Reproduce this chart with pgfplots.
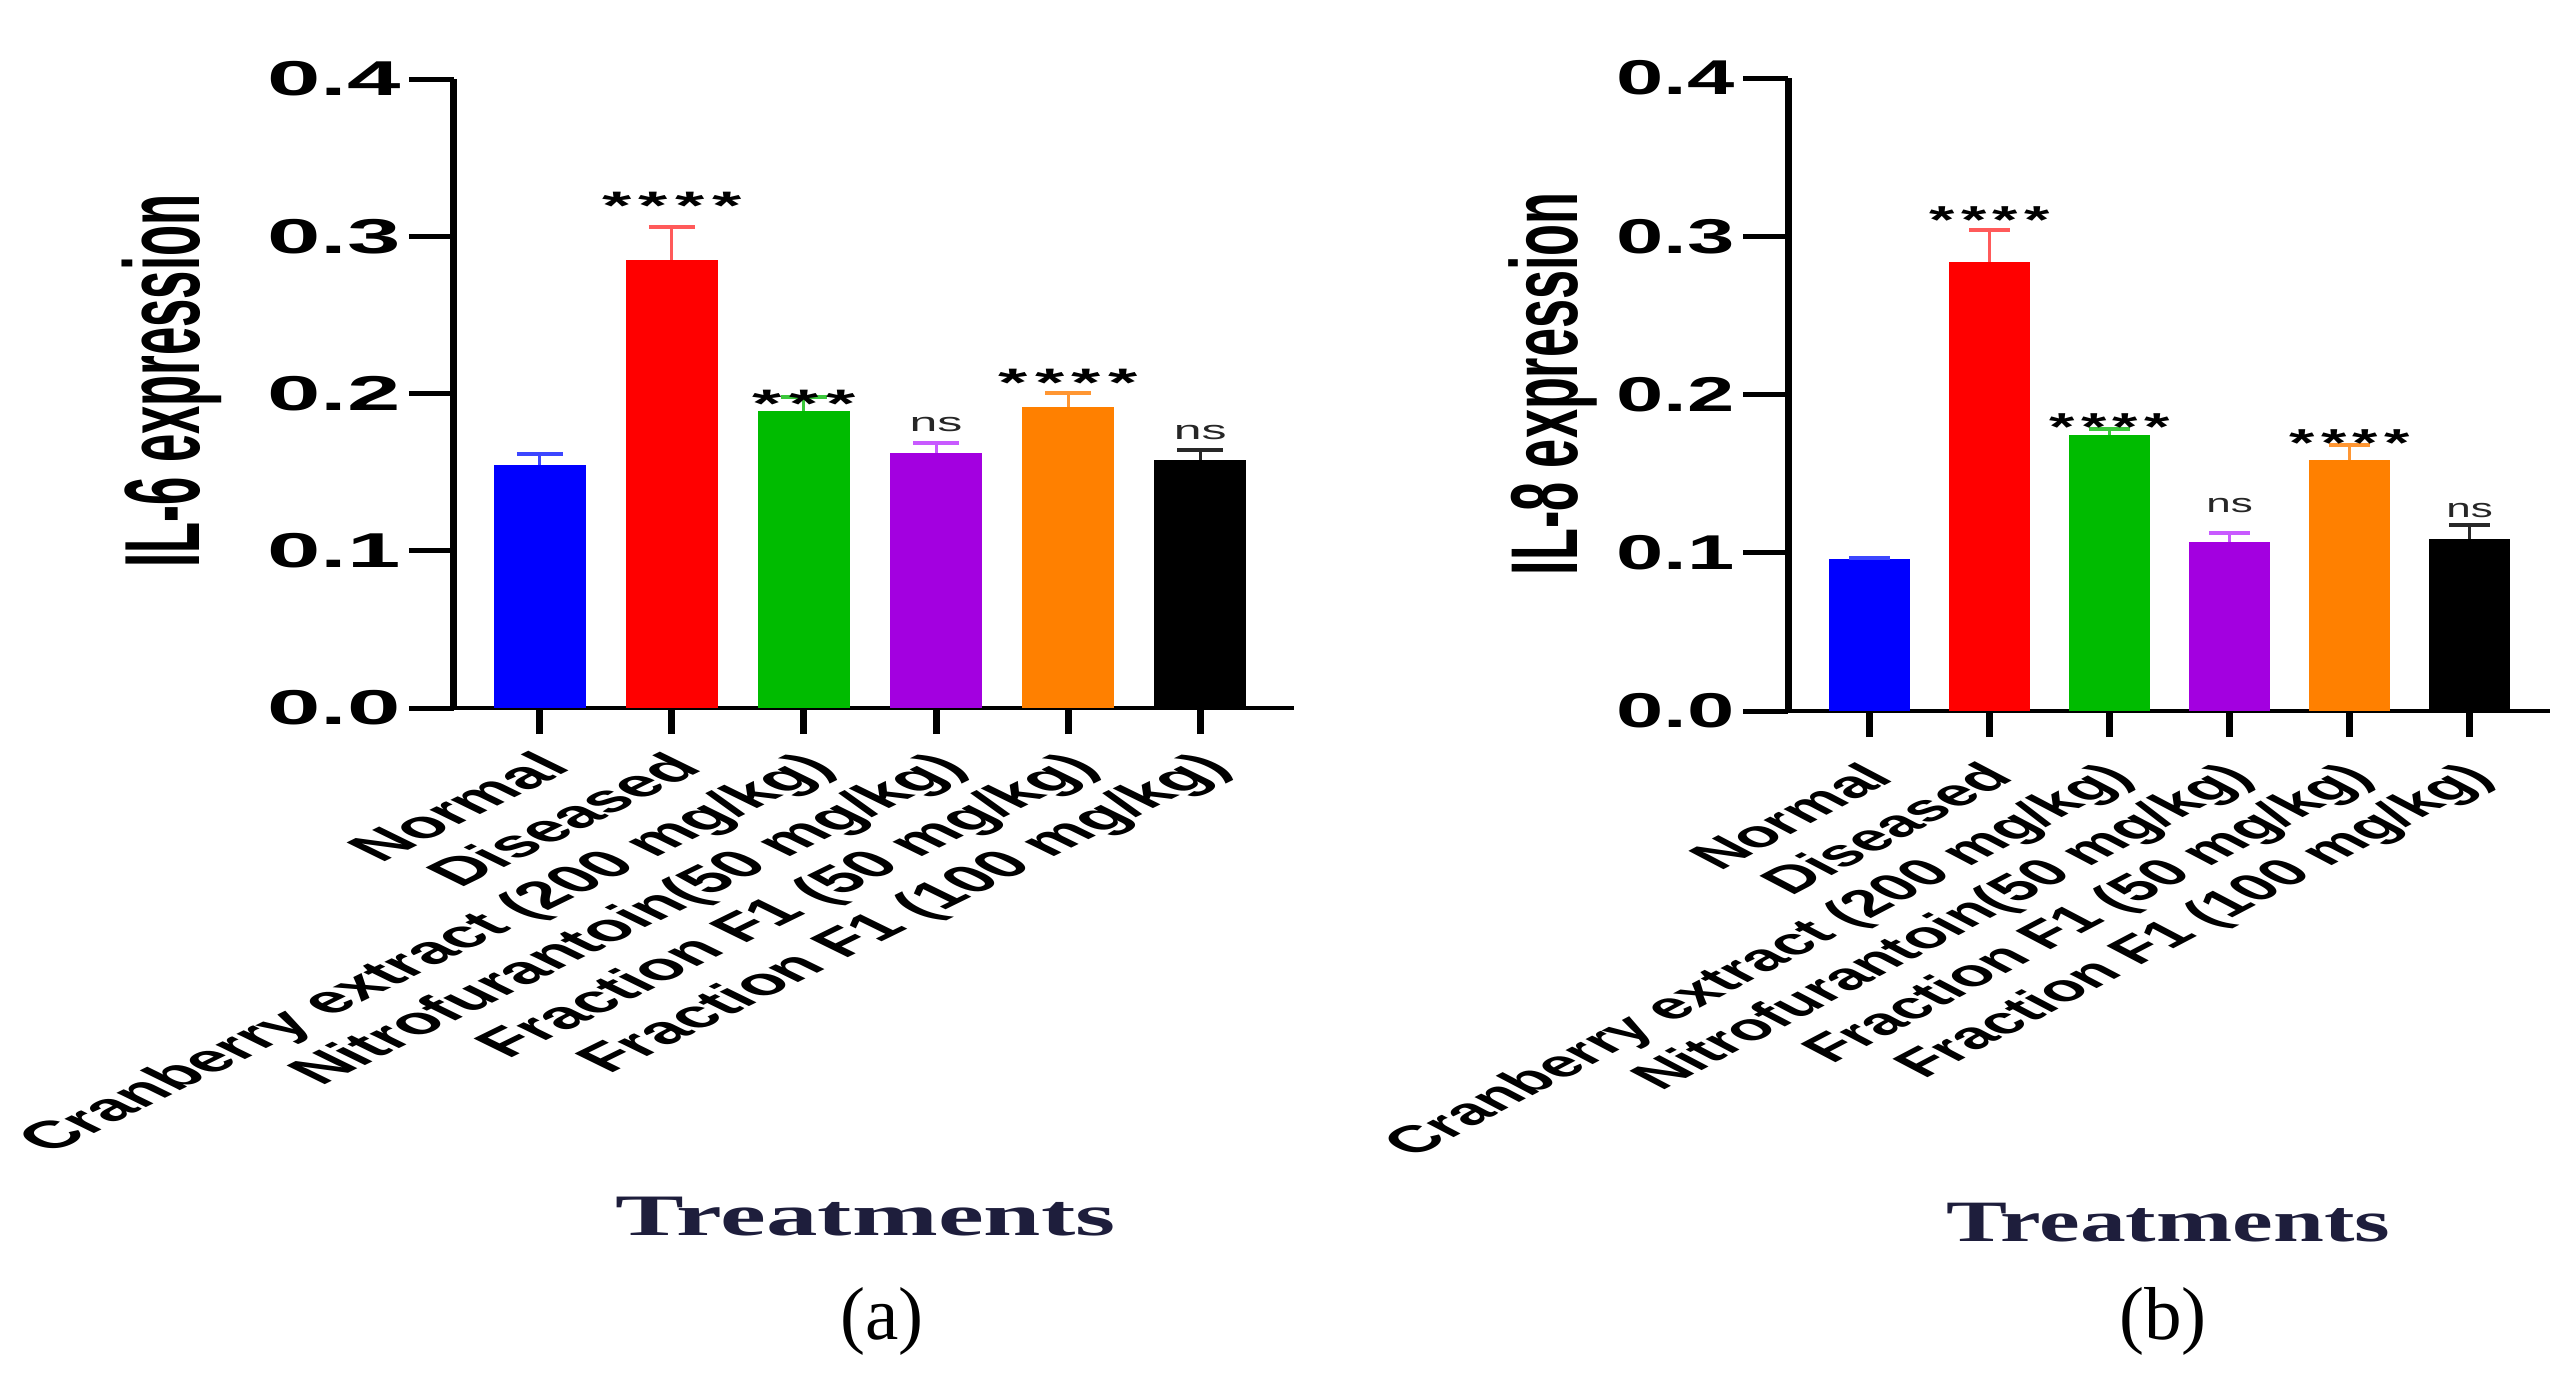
\documentclass[border=0pt]{standalone}
\usepackage{fontspec}
\usepackage{pgfplots}
\pgfplotsset{compat=1.18}
\newfontfamily\arialf{Liberation Sans}
\newfontfamily\timesf{Liberation Serif}
\newcommand{\fs}[1]{\fontsize{#1}{#1}\selectfont}
\newcommand{\stars}[2]{#1\ifnum#2>1 \hspace{0.1em}*\fi\ifnum#2>2 \hspace{0.1em}*\fi\ifnum#2>3 \hspace{0.1em}*\fi}
\definecolor{cBlue}{RGB}{0,0,255}
\definecolor{cRed}{RGB}{255,0,0}
\definecolor{cGreen}{RGB}{0,187,0}
\definecolor{cPurple}{RGB}{163,0,224}
\definecolor{cOrange}{RGB}{255,128,0}
\definecolor{cBlack}{RGB}{0,0,0}
\definecolor{eBlue}{RGB}{60,70,255}
\definecolor{eRed}{RGB}{255,90,90}
\definecolor{eGreen}{RGB}{60,200,60}
\definecolor{ePurple}{RGB}{200,90,255}
\definecolor{eOrange}{RGB}{255,150,50}
\definecolor{eBlack}{RGB}{40,40,40}
\definecolor{navy}{RGB}{30,30,60}

% one bar: x, mean, error, fill colour, error colour, bar width, cap half-width
\newcommand{\onebar}[7]{%
  \addplot[ybar, bar width=#6, bar shift=0pt, fill=#4, draw=none,
    error bars/.cd, y dir=plus, y explicit,
    error bar style={line width=0.6pt, draw=#5},
    error mark options={draw=#5, line width=0.8pt, rotate=90, mark size=#7}]
    coordinates {(#1,#2) +- (0,#3)};}

\pgfplotsset{
  panel/.style={
    scale only axis,
    ymin=0, ymax=0.4,
    axis lines=left, axis line style={-},
    x axis line style={line width=0.8pt},
    y axis line style={line width=1.4pt},
    tick align=outside,
    major tick length=9pt,
    ytick={0,0.1,0.2,0.3,0.4},
    y tick style={line width=1pt, black},
    /pgf/number format/assume math mode=true,
    yticklabel style={/pgf/number format/fixed, /pgf/number format/fixed zerofill,
      /pgf/number format/precision=1},
    xtick=\empty,
    extra x ticks={0,1,2,3,4,5},
    extra x tick labels={Normal,Diseased,Cranberry extract (200 mg/kg),Nitrofurantoin(50 mg/kg),Fraction F1 (50 mg/kg),Fraction F1 (100 mg/kg)},
    clip=false,
  }
}

\begin{document}
\begin{tikzpicture}
\useasboundingbox (0,0) rectangle (514.8pt,276.4pt);

% ---------------- (a) IL-6 ----------------
\begin{axis}[panel,
  at={(90.8pt,134.8pt)}, anchor=south west,
  width=168pt, height=125.8pt,
  xmin=-0.65, xmax=5.71,
  yticklabel style={font=\arialf\bfseries\fs{19.2}, yscale=0.51, inner xsep=1.5pt, inner ysep=0pt},
  extra x tick style={major tick length=5.2pt, tick style={line width=1.4pt, black},
    xticklabel style={font=\arialf\bfseries\fs{15.7}, inner sep=0pt, anchor=north east,
      xshift=-1.5pt, yshift=-3pt, yscale=0.49, rotate=45}},
  ylabel={IL-6 expression},
  every axis y label/.style={at={(axis description cs:-0.336,0.52)}, anchor=center,
    font=\arialf\bfseries\fs{21.4}, yscale=0.475, rotate=90},
  xlabel={Treatments},
  every axis x label/.style={at={(axis description cs:0.49,-0.809)}, anchor=center,
    font=\timesf\bfseries\fs{20.6}, text=navy, yscale=0.57},
]
\onebar{0}{0.1547}{0.0068}{cBlue}{eBlue}{0.7}{4.6pt}
\onebar{1}{0.2850}{0.0209}{cRed}{eRed}{0.7}{4.6pt}
\onebar{2}{0.1888}{0.0091}{cGreen}{eGreen}{0.7}{4.6pt}
\onebar{3}{0.1620}{0.0065}{cPurple}{ePurple}{0.7}{4.6pt}
\onebar{4}{0.1916}{0.0085}{cOrange}{eOrange}{0.7}{4.6pt}
\onebar{5}{0.1580}{0.0062}{cBlack}{eBlack}{0.7}{4.6pt}
\node[font=\arialf\bfseries\fs{15}, yscale=0.53] at (axis cs:1,0.3195) {\stars{*}{4}};
\node[font=\arialf\bfseries\fs{15}, yscale=0.53] at (axis cs:2,0.1935) {\stars{*}{3}};
\node[font=\arialf\fs{10}, yscale=0.53, text=black!85] at (axis cs:3,0.180) {ns};
\node[font=\arialf\bfseries\fs{15}, yscale=0.53] at (axis cs:4,0.2065) {\stars{*}{4}};
\node[font=\arialf\fs{10}, yscale=0.53, text=black!85] at (axis cs:5,0.175) {ns};
\end{axis}

% ---------------- (b) IL-8 ----------------
\begin{axis}[panel,
  at={(357.6pt,134.2pt)}, anchor=south west,
  width=152.4pt, height=126.6pt,
  xmin=-0.68, xmax=5.67,
  yticklabel style={font=\arialf\bfseries\fs{17}, yscale=0.575, inner xsep=1.5pt, inner ysep=0pt},
  extra x tick style={major tick length=5.2pt, tick style={line width=1.4pt, black},
    xticklabel style={font=\arialf\bfseries\fs{14.4}, inner sep=0pt, anchor=north east,
      xshift=-2.2pt, yshift=-4.5pt, yscale=0.525, rotate=45}},
  ylabel={IL-8 expression},
  every axis y label/.style={at={(axis description cs:-0.309,0.517)}, anchor=center,
    font=\arialf\bfseries\fs{19}, yscale=0.55, rotate=90},
  xlabel={Treatments},
  every axis x label/.style={at={(axis description cs:0.499,-0.809)}, anchor=center,
    font=\timesf\bfseries\fs{18.3}, text=navy, yscale=0.64},
]
\onebar{0}{0.0962}{0.0008}{cBlue}{eBlue}{0.67}{4.1pt}
\onebar{1}{0.2838}{0.0203}{cRed}{eRed}{0.67}{4.1pt}
\onebar{2}{0.1743}{0.0037}{cGreen}{eGreen}{0.67}{4.1pt}
\onebar{3}{0.1066}{0.0062}{cPurple}{ePurple}{0.67}{4.1pt}
\onebar{4}{0.1588}{0.0093}{cOrange}{eOrange}{0.67}{4.1pt}
\onebar{5}{0.1089}{0.0084}{cBlack}{eBlack}{0.67}{4.1pt}
\node[font=\arialf\bfseries\fs{13}, yscale=0.6] at (axis cs:1,0.310) {\stars{*}{4}};
\node[font=\arialf\bfseries\fs{13}, yscale=0.6] at (axis cs:2,0.1795) {\stars{*}{4}};
\node[font=\arialf\fs{8.8}, yscale=0.6, text=black!85] at (axis cs:3,0.1298) {ns};
\node[font=\arialf\bfseries\fs{13}, yscale=0.6] at (axis cs:4,0.1696) {\stars{*}{4}};
\node[font=\arialf\fs{8.8}, yscale=0.6, text=black!85] at (axis cs:5,0.1264) {ns};
\end{axis}

\node[font=\timesf\fs{15}] at (176.4pt,12.2pt) {(a)};
\node[font=\timesf\fs{15}] at (432.6pt,12.2pt) {(b)};
\end{tikzpicture}
\end{document}
